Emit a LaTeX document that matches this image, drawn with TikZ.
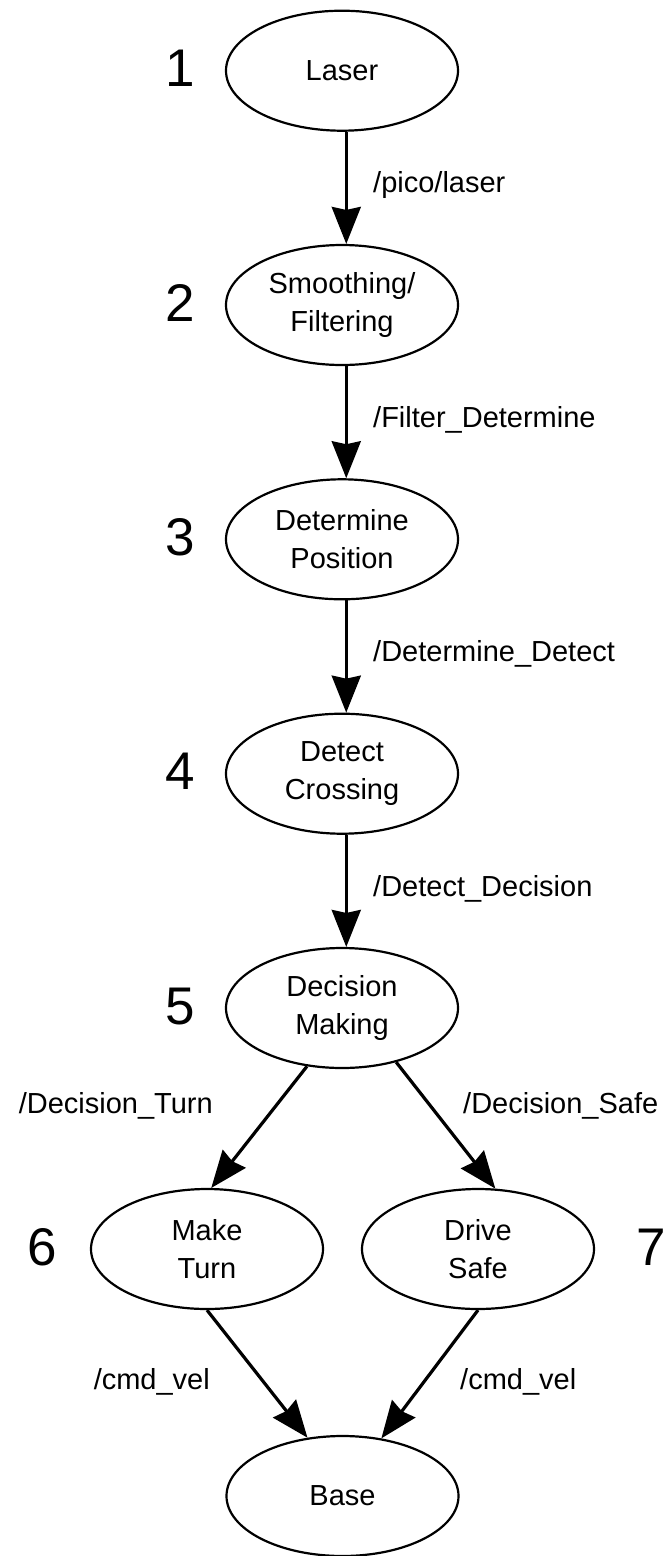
\documentclass[tikz,border=0pt]{standalone}
\usepackage{fontspec}
\setmainfont{Liberation Sans}
\usetikzlibrary{shapes.geometric,arrows.meta}
\begin{document}
\begin{tikzpicture}[x=1pt,y=-1pt,
  state/.style={ellipse,draw,line width=2.2pt,minimum width=232pt,minimum height=120pt,inner sep=0pt,align=center,font=\fontsize{29}{38}\selectfont},
  edge/.style={line width=3.2pt,-{Stealth[length=37pt,width=29pt,inset=3pt]}},
  lbl/.style={font=\fontsize{29}{35}\selectfont,inner sep=0pt},
  num/.style={font=\fontsize{53}{60}\selectfont,inner sep=0pt,anchor=base}]
\useasboundingbox (0,0) rectangle (668,1556);
\node[state] (laser)  at (342,70.7)  {Laser};
\node[state] (smooth) at (342,305)   {Smoothing/\\Filtering};
\node[state] (det)    at (342,539.3) {Determine\\Position};
\node[state] (detect) at (342,773.7) {Detect\\Crossing};
\node[state] (dec)    at (342,1008)  {Decision\\Making};
\node[state] (turn)   at (207,1249)  {Make\\Turn};
\node[state] (safe)   at (478,1249)  {Drive\\Safe};
\node[state] (base)   at (342.5,1496) {Base};

\node[num] (n1) at (180,86.7)  {1};
\node[num] (n2) at (180,321)   {2};
\node[num] (n3) at (180,555.3) {3};
\node[num] (n4) at (180,789.7) {4};
\node[num] (n5) at (180,1024)  {5};
\node[num] (n6) at (42,1265)   {6};
\node[num] (n7) at (651,1265)  {7};

\draw[edge] (laser.274) -- (smooth.86);
\draw[edge] (smooth.274) -- (det.86);
\draw[edge] (det.274) -- (detect.86);
\draw[edge] (detect.274) -- (dec.86);
\draw[edge] (dec.239) -- (turn.86);
\draw[edge] (dec.315) -- (safe.74);
\draw[edge] (turn.south) -- (base.121);
\draw[edge] (safe.south) -- (base.56);

\node[lbl,anchor=base west] (l1) at (373,192) {/pico/laser};
\node[lbl,anchor=base west] (l2) at (373,427) {/Filter\_Determine};
\node[lbl,anchor=base west] (l3) at (373,661) {/Determine\_Detect};
\node[lbl,anchor=base west] (l4) at (373,896) {/Detect\_Decision};
\node[lbl,anchor=base east] (l5) at (213,1113) {/Decision\_Turn};
\node[lbl,anchor=base west] (l6) at (463,1113) {/Decision\_Safe};
\node[lbl,anchor=base east] (l7) at (210,1389) {/cmd\_vel};
\node[lbl,anchor=base west] (l8) at (460,1389) {/cmd\_vel};
\end{tikzpicture}
\end{document}
